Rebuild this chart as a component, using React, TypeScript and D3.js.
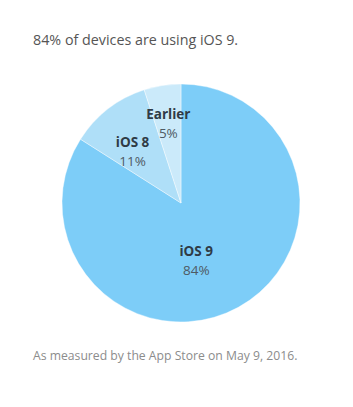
import { useMemo } from "react";
import * as d3 from "d3";

const versions = ["iOS 9", "iOS 8", "Earlier"];
const shares = [84, 11, 5];
const sliceColors = ["#7dcdf8", "#afdff8", "#cbeafa"];

const title = "84% of devices are using iOS 9.";
const footnote = "As measured by the App Store on May 9, 2016.";

const width = 353;
const height = 407;
const cx = 181;
const cy = 203;
const radius = 119;

// where each label block sits: angle (deg, clockwise from top) and distance from center
const labelPlacement: Record<string, { angle: number; r: number }> = {
  "iOS 9": { angle: 165, r: 59 },
  "iOS 8": { angle: -43, r: 71 },
  Earlier: { angle: -9, r: 81 },
};

const font = "'Open Sans', 'DejaVu Sans', sans-serif";

const App = () => {
  const slices = useMemo(() => {
    const pie = d3
      .pie<number>()
      .sort(null)
      .value((d) => d);
    const arcGen = d3.arc<d3.PieArcDatum<number>>().innerRadius(0).outerRadius(radius);
    return pie(shares).map((p, i) => {
      const place = labelPlacement[versions[i]];
      const a = (place.angle * Math.PI) / 180;
      return {
        path: arcGen(p),
        fill: sliceColors[i],
        name: versions[i],
        value: shares[i],
        lx: place.r * Math.sin(a),
        ly: -place.r * Math.cos(a),
      };
    });
  }, []);

  return (
    <svg
      width={width}
      height={height}
      style={{ position: "absolute", left: 0, top: 0, background: "#fff" }}
    >
      <text x={33} y={45} fontFamily={font} fontSize={14.3} fill="#555">
        {title}
      </text>
      <g transform={`translate(${cx}, ${cy})`}>
        {slices.map((d, i) => (
          <path key={i} d={d.path ?? undefined} fill={d.fill} stroke="#fff" strokeWidth={0.4} />
        ))}
        {slices.map((d, i) => (
          <g key={"l" + i} transform={`translate(${d.lx}, ${d.ly})`} fontFamily={font} textAnchor="middle">
            <text y={-4} fontSize={13.5} fontWeight="bold" fill="#2f3b46">
              {d.name}
            </text>
            <text y={15} fontSize={13.5} fill="#4f5a63">
              {d.value}%
            </text>
          </g>
        ))}
      </g>
      <text x={33} y={360} fontFamily={font} fontSize={12.2} fill="#8c8c8c">
        {footnote}
      </text>
    </svg>
  );
};

export default App;
